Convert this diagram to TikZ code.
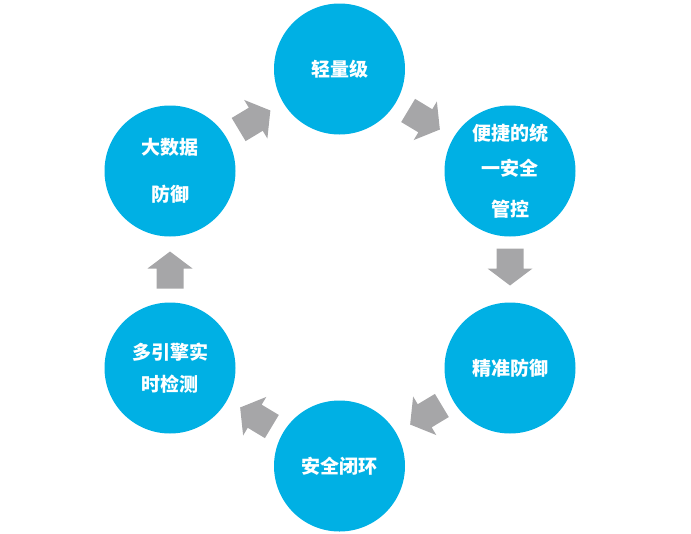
\documentclass[tikz,border=0pt]{standalone}
\usepackage{fontspec}
\newfontfamily\cjk{Noto Sans CJK SC}
\definecolor{circblue}{RGB}{0,176,228}
\definecolor{arrowgray}{RGB}{166,166,168}
\tikzset{
  x=1pt,y=-1pt,
  bubble/.style={circle,fill=circblue,minimum size=131pt,inner sep=0pt,text=white,align=center,
    font=\cjk\bfseries\fontsize{19}{35}\selectfont},
  blockarrow/.pic={\fill[arrowgray] (-18.5,-13.5) -- (1.5,-13.5) -- (1.5,-22.5) -- (18.5,0) -- (1.5,22.5) -- (1.5,13.5) -- (-18.5,13.5) -- cycle;}
}
\begin{document}
\begin{tikzpicture}
\useasboundingbox (0,0) rectangle (691,533);
\node[bubble] (c1) at (339.5,69) {轻量级};
\node[bubble] (c2) at (510,171) {便捷的统\\一安全\\[6pt]管控};
\node[bubble] (c3) at (510,368) {精准防御};
\node[bubble] (c4) at (339.5,466) {安全闭环};
\node[bubble] (c5) at (170,368) {多引擎实\\[-3pt]时检测};
\node[bubble] (c6) at (170,171) {大数据\\[12pt]防御};
\pic[rotate=31] at (254.5,120) {blockarrow};
\pic[rotate=-31] at (424,120) {blockarrow};
\pic[rotate=-90] at (510,267) {blockarrow};
\pic[rotate=-149] at (426,415) {blockarrow};
\pic[rotate=149] at (256,417) {blockarrow};
\pic[rotate=90] at (170,270) {blockarrow};
\end{tikzpicture}
\end{document}
